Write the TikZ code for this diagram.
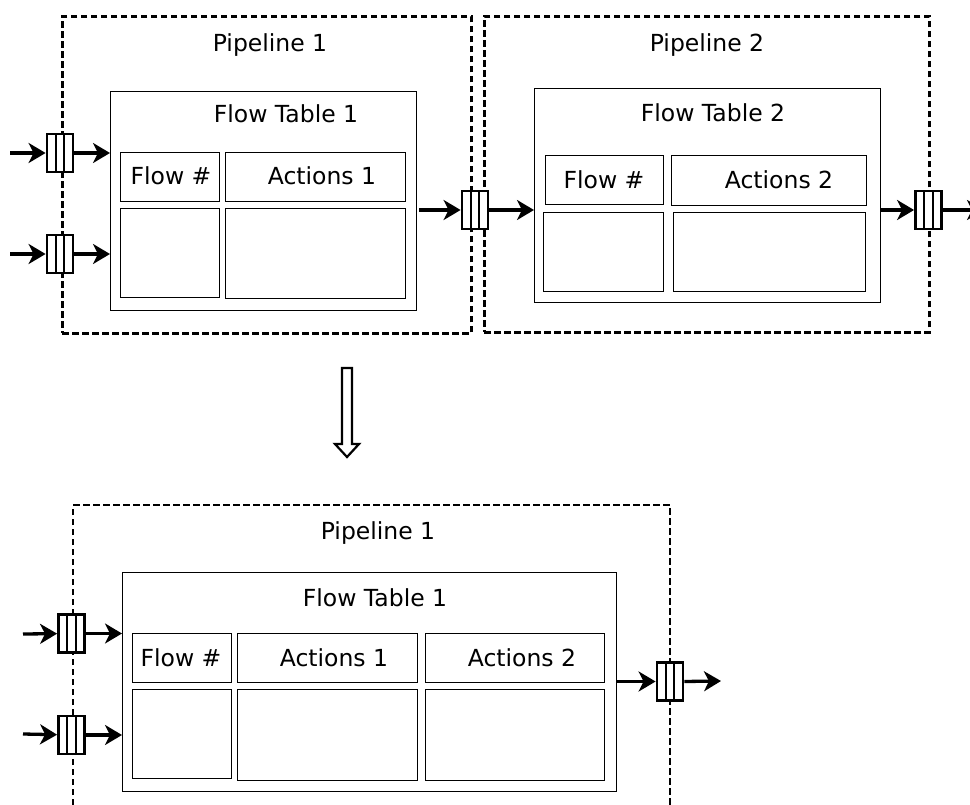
\documentclass[tikz,border=0pt]{standalone}
\usepackage{fontspec}
\setmainfont{DejaVu Sans}
\usetikzlibrary{arrows.meta,calc}
\begin{document}
\begin{tikzpicture}[x=1pt,y=-1pt,
  pipe/.style={draw,line width=2.7pt,dash pattern=on 6.5pt off 3.5pt},
  box/.style={draw,line width=1.2pt,anchor=north west,inner sep=0pt},
  lbl/.style={anchor=base,inner sep=0pt,font=\fontsize{23.5}{28}\selectfont},
  queue/.style={draw,fill=white,line width=2.8pt,minimum width=26pt,minimum height=38pt,inner sep=0pt,
    path picture={\foreach \f in {0.333,0.667}
      \draw[line width=2.2pt] ($(path picture bounding box.north west)!\f!(path picture bounding box.north east)$) --
        ($(path picture bounding box.south west)!\f!(path picture bounding box.south east)$);}},
  arr/.style={line width=3.3pt,-{Stealth[length=17pt,width=20pt,inset=5pt]}},
  bigarr/.style={draw,line width=2.2pt,fill=white}
]
\useasboundingbox (0,0) rectangle (970,805);

% ---------- top: pipelines ----------
\node[pipe,box,line width=2.7pt,minimum width=409pt,minimum height=317pt] (p1) at (61,15) {};
\node[pipe,box,line width=2.7pt,minimum width=445pt,minimum height=316pt] (p2) at (483,15) {};
\node[lbl] (p1t) at (270,52) {Pipeline 1};
\node[lbl] (p2t) at (707,52) {Pipeline 2};

% flow table 1
\node[box,minimum width=306pt,minimum height=219pt] (ft1) at (110,91) {};
\node[lbl] (ft1t) at (286,123) {Flow Table 1};
\node[box,minimum width=99pt,minimum height=49pt] (a1) at (120,152) {};
\node[box,minimum width=180pt,minimum height=49pt] (a2) at (225,152) {};
\node[box,minimum width=99pt,minimum height=89pt] (a3) at (120,208) {};
\node[box,minimum width=180pt,minimum height=90pt] (a4) at (225,208) {};
\node[lbl] (a1t) at (171,185) {Flow \#};
\node[lbl] (a2t) at (322,185) {Actions 1};

% flow table 2
\node[box,minimum width=346pt,minimum height=214pt] (ft2) at (534,88) {};
\node[lbl] (ft2t) at (713,122) {Flow Table 2};
\node[box,minimum width=118pt,minimum height=49pt] (b1) at (545,155) {};
\node[box,minimum width=195pt,minimum height=50pt] (b2) at (671,155) {};
\node[box,minimum width=120pt,minimum height=79pt] (b3) at (543,212) {};
\node[box,minimum width=192pt,minimum height=79pt] (b4) at (673,212) {};
\node[lbl] (b1t) at (604,189) {Flow \#};
\node[lbl] (b2t) at (779,189) {Actions 2};

% queues top
\node[queue] (q1) at (60,153) {};
\node[queue] (q2) at (60,254) {};
\node[queue] (q3) at (475,210) {};
\node[queue] (q4) at (928.5,210) {};
\coordinate (i1) at (10,153);
\coordinate (i2) at (10,254);
\coordinate (o4) at (984,210);
\draw[arr] (i1) -- (q1);
\draw[arr] (i2) -- (q2);
\draw[arr] (q1.east) -- (q1.east -| ft1.west);
\draw[arr] (q2.east) -- (q2.east -| ft1.west);
\draw[arr] (q3.west -| ft1.east) ++(2,0) -- (q3.west);
\draw[arr] (q3.east) -- (q3.east -| ft2.west);
\draw[arr] (q4.west -| ft2.east) -- (q4.west);
\draw[arr] (q4.east) -- (o4);

% big down arrow
\draw[bigarr] (342,368) -- (352,368) -- (352,444) -- (359,444) -- (347,457) -- (335,444) -- (342,444) -- cycle;

% ---------- bottom ----------
\draw[pipe] (73,815) -- (73,505) -- (670,505) -- (670,815);
\node[lbl] (p3t) at (378,539) {Pipeline 1};
\node[box,minimum width=494pt,minimum height=219pt] (ft3) at (122,572) {};
\node[lbl] (ft3t) at (375,606) {Flow Table 1};
\node[box,minimum width=99pt,minimum height=49pt] (c1) at (132,633) {};
\node[box,minimum width=180pt,minimum height=49pt] (c2) at (237,633) {};
\node[box,minimum width=179pt,minimum height=49pt] (c3) at (425,633) {};
\node[box,minimum width=99pt,minimum height=89pt] (c4) at (132,689) {};
\node[box,minimum width=180pt,minimum height=91pt] (c5) at (237,689) {};
\node[box,minimum width=179pt,minimum height=91pt] (c6) at (425,689) {};
\node[lbl] (c1t) at (181,666) {Flow \#};
\node[lbl] (c2t) at (334,666) {Actions 1};
\node[lbl] (c3t) at (522,666) {Actions 2};

\node[queue] (r1) at (71.5,633.5) {};
\node[queue] (r2) at (71.5,735) {};
\node[queue] (r3) at (670,681.5) {};
\coordinate (j1) at (23,634);
\coordinate (j2) at (23,734);
\coordinate (o3) at (721,681);
\draw[arr] (j1) -- (r1);
\draw[arr] (j2) -- (r2);
\draw[arr] (r1.east) -- (r1.east -| ft3.west);
\draw[arr] (r2.east) -- (r2.east -| ft3.west);
\draw[arr] (r3.west -| ft3.east) -- (r3.west);
\draw[arr] (r3.east) -- (o3);
\end{tikzpicture}
\end{document}
